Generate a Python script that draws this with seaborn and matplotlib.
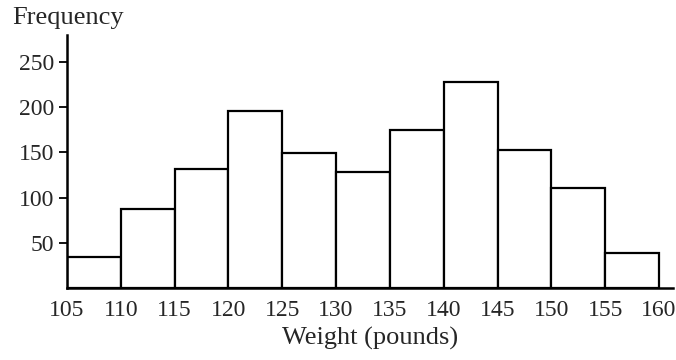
import numpy as np
import pandas as pd
import matplotlib
matplotlib.use("Agg")
import matplotlib.pyplot as plt
import seaborn as sns

# bin edges (pounds) and bar heights
bin_edges = [105, 110, 115, 120, 125, 130, 135, 140, 145, 150, 155, 160]
frequency = [34, 87, 132, 196, 149, 128, 175, 228, 153, 111, 39]
y_ticks = [50, 100, 150, 200, 250]

bin_mids = [(a + b) / 2 for a, b in zip(bin_edges[:-1], bin_edges[1:])]
df = pd.DataFrame({"weight": bin_mids, "freq": frequency})

sns.set_style("white")
plt.rcParams["font.family"] = ["Liberation Serif", "DejaVu Serif"]

fig = plt.figure(figsize=(6.76, 3.6), dpi=100)
ax = fig.add_axes([67 / 676, 72 / 360, 606 / 676, 253 / 360])

sns.histplot(data=df, x="weight", weights="freq", bins=bin_edges,
             color="white", edgecolor="black", linewidth=1.6, alpha=1, ax=ax)

ax.set_xlim(105, 161.3)
ax.set_ylim(0, 280)
ax.set_xticks(bin_edges)
ax.set_yticks(y_ticks)
ax.tick_params(axis="y", left=True, direction="out", length=6, width=1.3,
               color="black", labelsize=17, pad=3)
ax.tick_params(axis="x", length=0, labelsize=17, pad=9)
for s in ["top", "right"]:
    ax.spines[s].set_visible(False)
for s in ["left", "bottom"]:
    ax.spines[s].set_color("black")
    ax.spines[s].set_linewidth(1.8)

ax.set_xlabel("Weight (pounds)", fontsize=19, labelpad=4)
ax.set_ylabel("")
fig.text(12 / 676, 1 - 18 / 360, "Frequency", fontsize=19, ha="left", va="center")

fig.savefig("out.png", dpi=100)
